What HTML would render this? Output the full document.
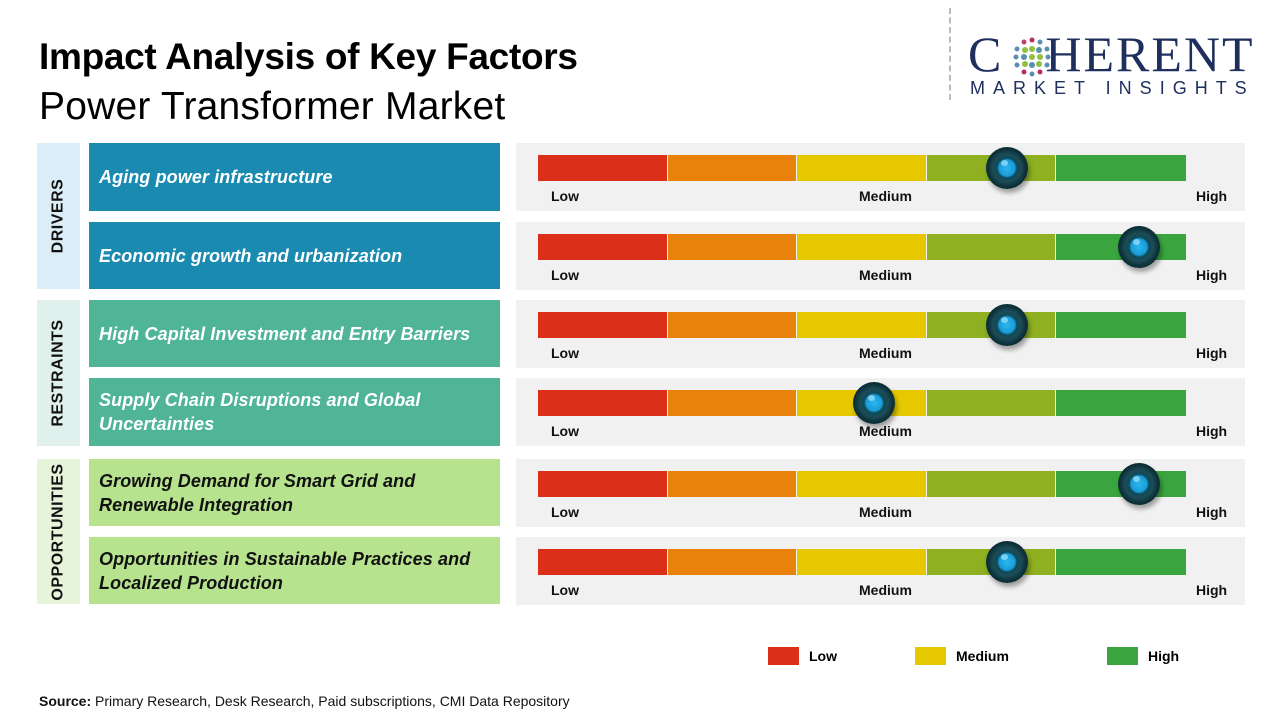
<!DOCTYPE html>
<html><head><meta charset="utf-8"><style>
*{margin:0;padding:0;box-sizing:border-box}
body{width:1280px;height:720px;background:#fff;position:relative;overflow:hidden;font-family:"Liberation Sans",sans-serif}
.a{position:absolute}
.t1{left:39px;top:36px;font-size:37px;font-weight:bold;color:#000;letter-spacing:-0.3px}
.t2{left:39px;top:85px;font-size:39px;color:#000;letter-spacing:0.2px}
.cat{position:absolute;left:37px;width:43px;display:flex;align-items:center;justify-content:center}
.cat span{transform:rotate(-90deg);white-space:nowrap;font-weight:bold;font-size:16px;color:#111;letter-spacing:0.5px}
.box{position:absolute;left:89px;width:411px;display:flex;align-items:center;padding-left:10px;font-style:italic;font-weight:bold;font-size:18px;line-height:24px;letter-spacing:0.1px}
.panel{position:absolute;left:516px;width:729px;background:#f1f1f1}
.seg{position:absolute;top:12px;height:26px}
.lbl{position:absolute;top:45px;font-size:14px;font-weight:bold;color:#111}
.knob{position:absolute;width:42px;height:42px;border-radius:50%;background:radial-gradient(circle at 50% 50%,#2ab8f0 0,#1a9ad6 8px,#0d4a5a 10px,#1d4c55 14px,#0f3640 18px,#0a2a30 21px);box-shadow:2px 4px 5px rgba(0,0,0,.35)}
.knob:after{content:"";position:absolute;left:15px;top:13px;width:7px;height:6px;border-radius:50%;background:#9fe6ff;opacity:.7}
</style></head><body>
<div class="a t1">Impact Analysis of Key Factors</div>
<div class="a t2">Power Transformer Market</div>
<div class="a" style="left:949px;top:8px;height:92px;border-left:2px dashed #bbb"></div>
<div class="a" style="left:968px;top:28px;font-family:'Liberation Serif',serif;font-size:50px;color:#1e2f5e;letter-spacing:2px;line-height:52px">C<span style="display:inline-block;width:42px"></span>HERENT</div>
<svg class="a" style="left:1011px;top:36px" width="42" height="42" viewBox="0 0 42 42">
<g fill="#5a8fb0"><circle cx="21" cy="4" r="2.5" fill="#b03060"/><circle cx="13" cy="6" r="2.5" fill="#c04070"/><circle cx="29" cy="6" r="2.5"/>
<circle cx="6" cy="13" r="2.5"/><circle cx="14" cy="14" r="3" fill="#8fc040"/><circle cx="21" cy="13" r="3" fill="#8fc040"/><circle cx="28" cy="14" r="3" fill="#5a8fb0"/><circle cx="36" cy="13" r="2.5"/>
<circle cx="5" cy="21" r="2.5"/><circle cx="13" cy="21" r="3"/><circle cx="21" cy="21" r="3" fill="#8fc040"/><circle cx="29" cy="21" r="3" fill="#8fc040"/><circle cx="37" cy="21" r="2.5"/>
<circle cx="6" cy="29" r="2.5"/><circle cx="14" cy="28" r="3" fill="#8fc040"/><circle cx="21" cy="29" r="3"/><circle cx="28" cy="28" r="3" fill="#8fc040"/><circle cx="36" cy="29" r="2.5"/>
<circle cx="13" cy="36" r="2.5" fill="#b03060"/><circle cx="21" cy="38" r="2.5"/><circle cx="29" cy="36" r="2.5" fill="#b03060"/></g></svg>
<div class="a" style="left:970px;top:78px;font-size:18px;color:#1e2f5e;letter-spacing:8px">MARKET INSIGHTS</div>

<div class="cat" style="top:143px;height:146px;background:#dbeef7"><span>DRIVERS</span></div>
<div class="cat" style="top:300px;height:146px;background:#e0f0ec"><span>RESTRAINTS</span></div>
<div class="cat" style="top:459px;height:145px;background:#e6f4da"><span>OPPORTUNITIES</span></div>

<div class="box" style="top:143px;height:68px;background:#1a8ab0;color:#fff">Aging power infrastructure</div>
<div class="box" style="top:222px;height:67px;background:#1a8ab0;color:#fff">Economic growth and urbanization</div>
<div class="box" style="top:300px;height:67px;background:#50b596;color:#fff">High Capital Investment and Entry Barriers</div>
<div class="box" style="top:378px;height:68px;background:#50b596;color:#fff">Supply Chain Disruptions and Global<br>Uncertainties</div>
<div class="box" style="top:459px;height:67px;background:#b7e38f;color:#111">Growing Demand for Smart Grid and<br>Renewable Integration</div>
<div class="box" style="top:537px;height:67px;background:#b7e38f;color:#111">Opportunities in Sustainable Practices and<br>Localized Production</div>

<div id="panels"></div>
<script>
var tops=[143,222,300,378,459,537],k=[1007,1139,1007,874,1139,1007];
var cols=["#dc2f1a","#e8820a","#e5c800","#8fb021","#3aa53e"];
var h="";
tops.forEach(function(t,i){
h+='<div class="panel" style="top:'+t+'px;height:68px">';
cols.forEach(function(c,j){h+='<div class="seg" style="left:'+(22+j*129.6)+'px;width:'+(j<4?128.6:129.6)+'px;background:'+c+'"></div>';});
h+='<div class="lbl" style="left:35px">Low</div><div class="lbl" style="left:343px">Medium</div><div class="lbl" style="left:680px">High</div>';
h+='<div class="knob" style="left:'+(k[i]-516-21)+'px;top:4px"></div></div>';
});
document.getElementById("panels").innerHTML=h;
</script>

<div class="a" style="left:768px;top:647px;width:31px;height:18px;background:#dc2f1a"></div>
<div class="a" style="left:809px;top:648px;font-size:14px;font-weight:bold">Low</div>
<div class="a" style="left:915px;top:647px;width:31px;height:18px;background:#e5c800"></div>
<div class="a" style="left:956px;top:648px;font-size:14px;font-weight:bold">Medium</div>
<div class="a" style="left:1107px;top:647px;width:31px;height:18px;background:#3aa53e"></div>
<div class="a" style="left:1148px;top:648px;font-size:14px;font-weight:bold">High</div>
<div class="a" style="left:39px;top:693px;font-size:14px;color:#111"><b>Source:</b> Primary Research, Desk Research, Paid subscriptions, CMI Data Repository</div>
</body></html>
